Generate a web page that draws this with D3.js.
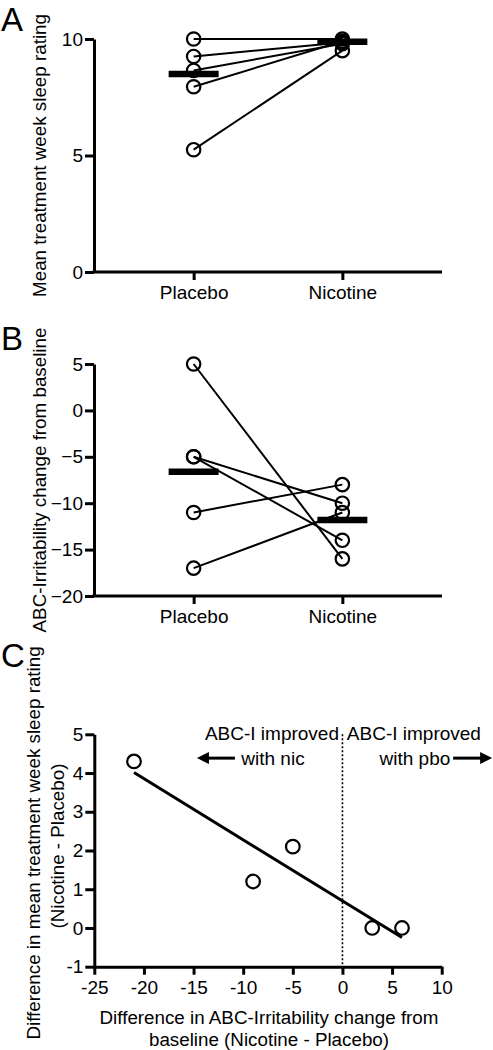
<!DOCTYPE html>
<html>
<head>
<meta charset="utf-8">
<script src="https://cdn.jsdelivr.net/npm/d3@7/dist/d3.min.js"></script>
<style>
  html, body { margin: 0; padding: 0; background: #fff; }
  svg { display: block; }
  text { font-family: "Liberation Sans", Arial, Helvetica, sans-serif; fill: #000; }
</style>
</head>
<body>
<svg id="chart" width="493" height="1050"></svg>
<script>
// ---------------- DATA ----------------
const categories = ["Placebo", "Nicotine"];

// Panel A: mean treatment week sleep rating (paired per subject)
const sleepPlacebo  = [10, 9.25, 8.65, 7.95, 5.25];
const sleepNicotine = [10, 9.85, 9.8, 9.9, 9.5];
const sleepBars     = [8.5, 9.88];
const sleepTicks    = [0, 5, 10];

// Panel B: ABC-Irritability change from baseline (paired per subject)
const irrPlacebo  = [5, -5, -5, -11, -17];
const irrNicotine = [-16, -10, -14, -8, -11];
const irrBars     = [-6.6, -11.8];
const irrTicks    = [-20, -15, -10, -5, 0, 5];

// Panel C: differences (Nicotine - Placebo)
const diffIrr   = [-21, -9, -5, 3, 6];
const diffSleep = [4.3, 1.2, 2.1, 0, 0];
const cXTicks   = [-25, -20, -15, -10, -5, 0, 5, 10];
const cYTicks   = [-1, 0, 1, 2, 3, 4, 5];

const panelLabels = ["A", "B", "C"];

// ---------------- DRAW ----------------
const svg = d3.select("#chart");
const FONT_TICK = 19;
const FONT_TITLE = 18.8;

function styleAxis(g) {
  g.select(".domain").attr("stroke", "#000").attr("stroke-width", 3);
  g.selectAll(".tick line").attr("stroke", "#000").attr("stroke-width", 3);
  g.selectAll(".tick text").attr("font-size", FONT_TICK).attr("fill", "#000")
    .attr("font-family", '"Liberation Sans", Arial, Helvetica, sans-serif');
}

function pairedPanel(opts) {
  const x = d3.scalePoint().domain(categories).range([94, 442]).padding(0.67);
  const y = d3.scaleLinear().domain(opts.domain).range(opts.range);
  const g = svg.append("g");

  // connecting lines
  const pairs = opts.pbo.map((v, i) => [v, opts.nic[i]]);
  g.selectAll("line.pair").data(pairs).enter().append("line")
    .attr("x1", x(categories[0])).attr("x2", x(categories[1]))
    .attr("y1", d => y(d[0])).attr("y2", d => y(d[1]))
    .attr("stroke", "#000").attr("stroke-width", 2);

  // circles
  const pts = [];
  opts.pbo.forEach(v => pts.push([categories[0], v]));
  opts.nic.forEach(v => pts.push([categories[1], v]));
  g.selectAll("circle").data(pts).enter().append("circle")
    .attr("cx", d => x(d[0])).attr("cy", d => y(d[1])).attr("r", 6.7)
    .attr("fill", "none").attr("stroke", "#000").attr("stroke-width", 2.2);

  // mean bars
  g.selectAll("line.bar").data(opts.bars).enter().append("line")
    .attr("x1", (d, i) => x(categories[i]) - 25).attr("x2", (d, i) => x(categories[i]) + 25)
    .attr("y1", d => y(d)).attr("y2", d => y(d))
    .attr("stroke", "#000").attr("stroke-width", 6.5);

  // axes
  const yAxis = g.append("g").attr("transform", "translate(94,0)")
    .call(d3.axisLeft(y).tickValues(opts.ticks).tickSize(9).tickPadding(2).tickSizeOuter(0).tickFormat(d3.format("d")));
  styleAxis(yAxis);
  const xAxis = g.append("g").attr("transform", `translate(0,${opts.range[0]})`)
    .call(d3.axisBottom(x).tickSize(8).tickPadding(5.5).tickSizeOuter(0));
  styleAxis(xAxis);
  xAxis.select(".domain").attr("d", `M92.5,0H442`);

  // y title
  svg.append("text")
    .attr("transform", `translate(45.5,${(opts.range[0] + opts.range[1]) / 2}) rotate(-90)`)
    .attr("text-anchor", "middle").attr("font-size", FONT_TITLE)
    .text(opts.title);
}

pairedPanel({
  domain: [0, 10], range: [272, 39], ticks: sleepTicks,
  pbo: sleepPlacebo, nic: sleepNicotine, bars: sleepBars,
  title: "Mean treatment week sleep rating"
});

pairedPanel({
  domain: [-20, 5], range: [596, 364], ticks: irrTicks,
  pbo: irrPlacebo, nic: irrNicotine, bars: irrBars,
  title: "ABC-Irritability change from baseline"
});

// ---------- Panel C ----------
(function () {
  const x = d3.scaleLinear().domain([-25, 10]).range([94.3, 441.7]);
  const y = d3.scaleLinear().domain([-1, 5]).range([966.7, 734.3]);
  const g = svg.append("g");

  // dotted zero line
  g.append("line")
    .attr("x1", x(0)).attr("x2", x(0)).attr("y1", y(5)).attr("y2", y(-1))
    .attr("stroke", "#000").attr("stroke-width", 1.6).attr("stroke-dasharray", "2,2");

  // linear regression
  const mx = d3.mean(diffIrr), my = d3.mean(diffSleep);
  const sxy = d3.sum(diffIrr, (v, i) => (v - mx) * (diffSleep[i] - my));
  const sxx = d3.sum(diffIrr, v => (v - mx) * (v - mx));
  const slope = sxy / sxx, icpt = my - slope * mx;
  const [x0, x1] = d3.extent(diffIrr);
  g.append("line")
    .attr("x1", x(x0)).attr("y1", y(icpt + slope * x0))
    .attr("x2", x(x1)).attr("y2", y(icpt + slope * x1))
    .attr("stroke", "#000").attr("stroke-width", 3);

  // points
  g.selectAll("circle").data(diffIrr.map((v, i) => [v, diffSleep[i]])).enter().append("circle")
    .attr("cx", d => x(d[0])).attr("cy", d => y(d[1])).attr("r", 6.8)
    .attr("fill", "#fff").attr("stroke", "#000").attr("stroke-width", 2.2);

  // axes
  const yAxis = g.append("g").attr("transform", "translate(94.3,0)")
    .call(d3.axisLeft(y).tickValues(cYTicks).tickSize(9).tickPadding(2).tickSizeOuter(0).tickFormat(d3.format("d")));
  styleAxis(yAxis);
  const xAxis = g.append("g").attr("transform", "translate(0,966.7)")
    .call(d3.axisBottom(x).tickValues(cXTicks).tickSize(8).tickPadding(5.5).tickSizeOuter(0).tickFormat(d3.format("d")));
  styleAxis(xAxis);
  g.selectAll(".tick text").text(function () { return d3.select(this).text().replace("−", "-"); });

  // annotations
  const ann = g.append("g").attr("font-size", FONT_TICK);
  ann.append("text").attr("x", x(-7.1)).attr("y", y(4.85)).attr("text-anchor", "middle").text("ABC-I improved");
  ann.append("text").attr("x", x(-7.0)).attr("y", y(4.2)).attr("text-anchor", "middle").text("with nic");
  ann.append("text").attr("x", x(7.2)).attr("y", y(4.85)).attr("text-anchor", "middle").text("ABC-I improved");
  ann.append("text").attr("x", x(7.3)).attr("y", y(4.2)).attr("text-anchor", "middle").text("with pbo");

  function arrow(xTail, xTip, yv) {
    const xt = x(xTail), xp = x(xTip), yy = y(yv);
    const dir = xp > xt ? 1 : -1;
    const headLen = 12, headHalf = 6;
    g.append("line").attr("x1", xt).attr("x2", xp - dir * headLen + dir * 1)
      .attr("y1", yy).attr("y2", yy).attr("stroke", "#000").attr("stroke-width", 3);
    g.append("path")
      .attr("d", `M${xp},${yy}L${xp - dir * headLen},${yy - headHalf}L${xp - dir * headLen},${yy + headHalf}Z`)
      .attr("fill", "#000");
  }
  arrow(-10.83, -14.66, 4.385);
  arrow(11.15, 15.08, 4.385);

  // titles
  svg.append("text").attr("transform", "translate(40,843) rotate(-90)")
    .attr("text-anchor", "middle").attr("font-size", FONT_TITLE)
    .text("Difference in mean treatment week sleep rating");
  svg.append("text").attr("transform", "translate(63.5,846) rotate(-90)")
    .attr("text-anchor", "middle").attr("font-size", FONT_TITLE)
    .text("(Nicotine - Placebo)");
  svg.append("text").attr("x", 269).attr("y", 1023.5)
    .attr("text-anchor", "middle").attr("font-size", FONT_TITLE)
    .text("Difference in ABC-Irritability change from");
  svg.append("text").attr("x", 269).attr("y", 1045.5)
    .attr("text-anchor", "middle").attr("font-size", FONT_TITLE)
    .text("baseline (Nicotine - Placebo)");
})();

// panel letters
const letterBaselines = [30.5, 350, 667];
svg.selectAll("text.panel").data(panelLabels).enter().append("text")
  .attr("class", "panel")
  .attr("x", 1).attr("y", (d, i) => letterBaselines[i])
  .attr("font-size", 33)
  .text(d => d);
</script>
</body>
</html>
